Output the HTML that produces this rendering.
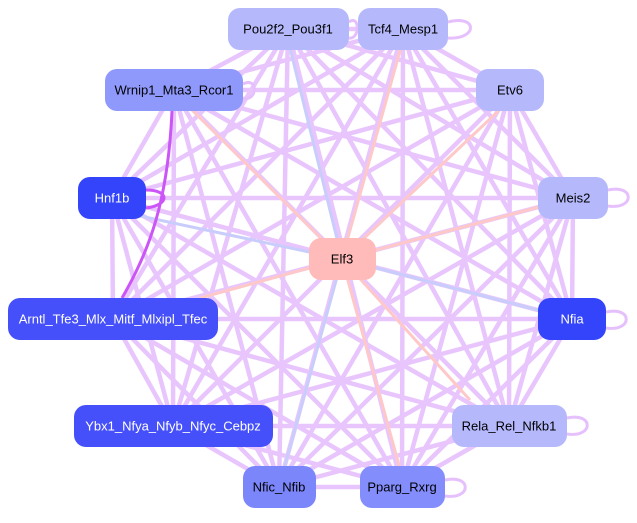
<!DOCTYPE html>
<html><head><style>
body{margin:0;background:#fff;width:637px;height:518px;overflow:hidden}
text{font-family:"Liberation Sans",sans-serif;font-size:13px;text-anchor:middle;dominant-baseline:central}
</style></head><body>
<svg width="637" height="518" viewBox="0 0 637 518">
<path fill="none" stroke="#e6c0fd" stroke-width="4.5" stroke-opacity="0.9" d="
M288 29L403 29M288 29L174 90M288 29L510 90M288 29L112 198M288 29L573 198M288 29L113 319M288 29L572 319M288 29L173 426M288 29L509 426M288 29L279 487M288 29L402 487
M403 29L174 90M403 29L510 90M403 29L112 198M403 29L573 198M403 29L113 319M403 29L572 319M403 29L173 426M403 29L509 426M403 29L279 487M403 29L402 487
M174 90L510 90M174 90L112 198M174 90L573 198M174 90L572 319M174 90L173 426M174 90L509 426M174 90L279 487M174 90L402 487
M510 90L112 198M510 90L573 198M510 90L113 319M510 90L572 319M510 90L173 426M510 90L509 426M510 90L279 487M510 90L402 487
M112 198L573 198M112 198L113 319M112 198L572 319M112 198L173 426M112 198L509 426M112 198L279 487M112 198L402 487
M573 198L113 319M573 198L572 319M573 198L173 426M573 198L509 426M573 198L279 487M573 198L402 487
M113 319L572 319M113 319L173 426M113 319L509 426M113 319L279 487M113 319L402 487
M572 319L173 426M572 319L509 426M572 319L279 487M572 319L402 487
M173 426L509 426M173 426L279 487M173 426L402 487
M509 426L279 487M509 426L402 487
M279 487L402 487"/>
<g fill="none" stroke-width="3">
<line x1="112" y1="210" x2="342" y2="259" stroke="#c8cdfc"/>
<line x1="572" y1="319" x2="342" y2="259" stroke="#c8cdfc"/>
<line x1="288" y1="40" x2="342" y2="259" stroke="#c8cdfc"/>
<line x1="279" y1="487" x2="342" y2="259" stroke="#c8cdfc"/>
<line x1="342" y1="259" x2="403" y2="40" stroke="#ffc8c8"/>
<line x1="342" y1="259" x2="510" y2="100" stroke="#ffc8c8"/>
<line x1="342" y1="259" x2="573" y2="198" stroke="#ffc8c8"/>
<line x1="342" y1="259" x2="200" y2="298" stroke="#ffc8c8"/>
<line x1="342" y1="259" x2="402" y2="476" stroke="#ffc8c8"/>
<line x1="342" y1="259" x2="470" y2="400" stroke="#ffc8c8"/>
<line x1="342" y1="259" x2="190" y2="108" stroke="#ffc8c8"/>
<path d="M172 111 C168 200 150 250 122 298" stroke="#cc55f7"/>
<path d="M146 190 C170 190 170 205 146 208" stroke="#cc55f7"/>
</g>
<g stroke="#e6c0fd" stroke-width="3" fill="none">
<path d="M448 22 C478 14 478 40 448 38"/><path d="M349 22 C360 14 360 40 349 38"/>
<path d="M608 190 C635 184 635 210 608 206"/><path d="M606 312 C633 306 633 332 606 328"/>
<path d="M567 418 C594 412 594 438 567 434"/><path d="M445 480 C472 474 472 500 445 496"/>
<path d="M243 84 C258 76 258 102 243 98"/>
</g>
<g>
<rect x="228" y="8" width="121" height="42" rx="12" fill="#b5b9fc"/><text x="288" y="29">Pou2f2_Pou3f1</text>
<rect x="358" y="8" width="90" height="42" rx="12" fill="#b5b9fc"/><text x="403" y="29">Tcf4_Mesp1</text>
<rect x="105" y="69" width="138" height="42" rx="12" fill="#8f99fb"/><text x="174" y="90">Wrnip1_Mta3_Rcor1</text>
<rect x="476" y="69" width="68" height="42" rx="12" fill="#b5b9fc"/><text x="510" y="90">Etv6</text>
<rect x="78" y="177" width="68" height="42" rx="12" fill="#3344fb"/><text x="112" y="198" fill="#fff">Hnf1b</text>
<rect x="538" y="177" width="70" height="42" rx="12" fill="#b5b9fc"/><text x="573" y="198">Meis2</text>
<rect x="309" y="238" width="67" height="42" rx="12" fill="#ffbaba"/><text x="342" y="259">Elf3</text>
<rect x="8" y="298" width="210" height="42" rx="12" fill="#4550fa"/><text x="113" y="319" fill="#fff">Arntl_Tfe3_Mlx_Mitf_Mlxipl_Tfec</text>
<rect x="538" y="298" width="68" height="42" rx="12" fill="#3344fb"/><text x="572" y="319" fill="#fff">Nfia</text>
<rect x="74" y="405" width="199" height="42" rx="12" fill="#4550fa"/><text x="173" y="426" fill="#fff">Ybx1_Nfya_Nfyb_Nfyc_Cebpz</text>
<rect x="452" y="405" width="115" height="42" rx="12" fill="#b5b9fc"/><text x="509" y="426">Rela_Rel_Nfkb1</text>
<rect x="243" y="466" width="73" height="42" rx="12" fill="#7c86fb"/><text x="279" y="487">Nfic_Nfib</text>
<rect x="360" y="466" width="85" height="42" rx="12" fill="#838dfb"/><text x="402" y="487">Pparg_Rxrg</text>
</g>
</svg>
</body></html>
